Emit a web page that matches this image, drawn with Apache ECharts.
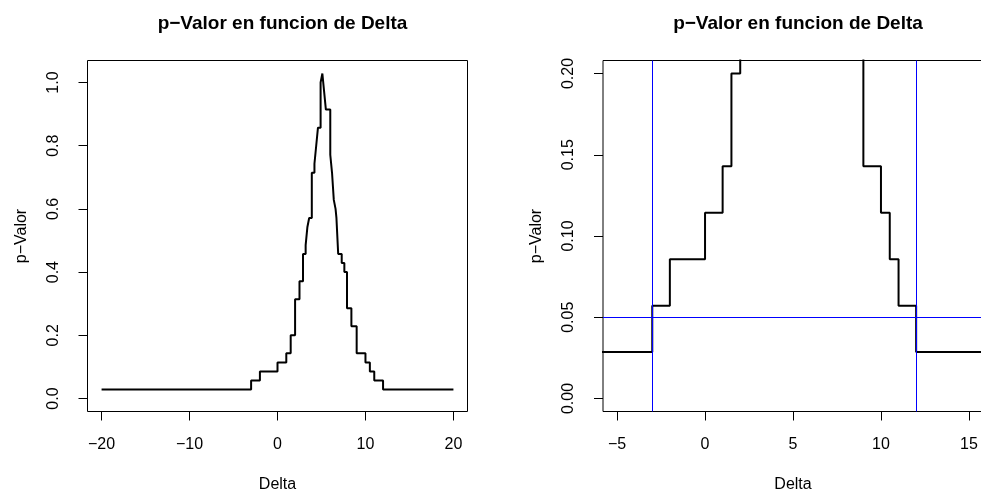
<!DOCTYPE html>
<html>
<head>
<meta charset="utf-8">
<script src="https://cdn.jsdelivr.net/npm/echarts@6/dist/echarts.min.js"></script>
<style>
    html, body { margin: 0; padding: 0; background: #fff; }
    #chart { width: 981px; height: 495px; }
</style>
</head>
<body>
<div id="chart"></div>
<script>
// Delta where each step starts; the p-value holds until the next Delta
let deltas = [-20, -3, -2, 0, 1, 1.5, 2, 2.5, 2.9, 3.2,
    3.4, 3.6, 3.9, 4.2, 4.4, 4.6, 4.9, 5.1, 5.3, 5.5,
    6.0, 6.2, 6.4, 6.6, 6.7, 6.9, 7.3, 7.6, 7.9, 8.4,
    9, 10, 10.5, 11, 12, 20];
let pValues = [0.0286, 0.0571, 0.0857, 0.1143, 0.1429, 0.2, 0.3143, 0.3714, 0.4571, 0.4857,
    0.5429, 0.5714, 0.7143, 0.7429, 0.8, 0.8571, 1.0, 1.0286, 0.9714, 0.9143,
    0.7714, 0.7143, 0.6286, 0.6, 0.5714, 0.4571, 0.4286, 0.4, 0.2857, 0.2286,
    0.1429, 0.1143, 0.0857, 0.0571, 0.0286, 0.0286];

// reference lines on the zoomed panel
let alpha = 0.05;
let ciBounds = [-3, 12];

// tick labels
let xTicksFull = [-20, -10, 0, 10, 20];
let yTicksFull = [0, 0.2, 0.4, 0.6, 0.8, 1.0];
let xTicksZoom = [-5, 0, 5, 10, 15];
let yTicksZoom = [0, 0.05, 0.10, 0.15, 0.20];

let titleText = "p\u2212Valor en funcion de Delta";
let font = "'Liberation Sans', Arial, Helvetica, sans-serif";
let blue = '#0000ff';

let stepData = deltas.map((d, i) => [d, pValues[i]]);

function xAxisCfg(gridIndex, min, max, ticks) {
    return {
        type: 'value', gridIndex: gridIndex, min: min, max: max,
        name: 'Delta', nameLocation: 'middle', nameGap: 65,
        nameTextStyle: {color: '#000', fontSize: 16, fontFamily: font},
        axisLine: {show: false, onZero: false},
        axisTick: {show: true, length: 9, customValues: ticks, lineStyle: {color: '#000'}},
        axisLabel: {
            customValues: ticks, margin: 25, color: '#000', fontSize: 16, fontFamily: font,
            formatter: v => String(v).replace('-', '\u2212')
        },
        splitLine: {show: false}
    };
}

function yAxisCfg(gridIndex, min, max, ticks, digits) {
    return {
        type: 'value', gridIndex: gridIndex, min: min, max: max,
        name: 'p\u2212Valor', nameLocation: 'middle', nameGap: 58, nameRotate: 90,
        nameTextStyle: {color: '#000', fontSize: 16, fontFamily: font},
        axisLine: {show: false, onZero: false},
        axisTick: {show: true, length: 9, customValues: ticks, lineStyle: {color: '#000'}},
        axisLabel: {
            customValues: ticks, rotate: 90, margin: 26, color: '#000', fontSize: 16, fontFamily: font,
            formatter: v => v.toFixed(digits)
        },
        splitLine: {show: false}
    };
}

// one empty series per abline so each keeps its own colour
function refLineSeries(items) {
    return {
        type: 'line', xAxisIndex: 1, yAxisIndex: 1, data: [],
        markLine: {
            silent: true, symbol: 'none', label: {show: false},
            lineStyle: {color: blue, width: 1, type: 'solid'},
            data: items
        }
    };
}

let option = {
    animation: false,
    backgroundColor: '#fff',
    title: [
        {text: titleText, left: 277.5, top: 9, textAlign: 'center',
            textStyle: {fontSize: 19, fontWeight: 'bold', color: '#000', fontFamily: font}},
        {text: titleText, left: 793, top: 9, textAlign: 'center',
            textStyle: {fontSize: 19, fontWeight: 'bold', color: '#000', fontFamily: font}}
    ],
    grid: [
        {left: 87.5, top: 60.5, width: 380, height: 351, outerBoundsMode: 'none',
            show: true, borderColor: '#000', borderWidth: 1},
        // the right panel runs a couple of pixels past the page edge
        {left: 603, top: 60.5, width: 380, height: 351, outerBoundsMode: 'none',
            show: true, borderColor: '#000', borderWidth: 1}
    ],
    xAxis: [
        xAxisCfg(0, -21.6, 21.6, xTicksFull),
        xAxisCfg(1, -5.8, 15.8, xTicksZoom)
    ],
    yAxis: [
        yAxisCfg(0, -0.0411, 1.0697, yTicksFull, 1),
        yAxisCfg(1, -0.008, 0.208, yTicksZoom, 2)
    ],
    series: [
        {
            type: 'line', xAxisIndex: 0, yAxisIndex: 0, data: stepData, step: 'end',
            showSymbol: false, lineStyle: {color: '#000', width: 2}
        },
        {
            type: 'line', xAxisIndex: 1, yAxisIndex: 1, data: stepData, step: 'end',
            showSymbol: false, clip: true, lineStyle: {color: '#000', width: 2}
        },
        refLineSeries(ciBounds.map(b => ({xAxis: b}))),   // abline(v = ...)
        refLineSeries([{yAxis: alpha}])                    // abline(h = 0.05)
    ]
};

let chart = echarts.init(document.getElementById('chart'));
chart.setOption(option);
</script>
</body>
</html>
